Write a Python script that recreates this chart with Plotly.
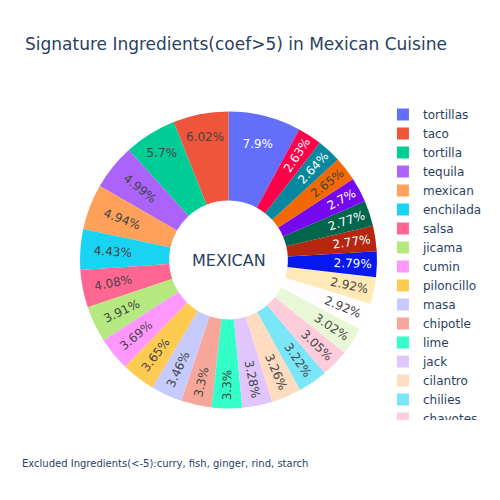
import plotly.graph_objects as go

labels = ["tortillas", "taco", "tortilla", "tequila", "mexican", "enchilada", "salsa",
          "jicama", "cumin", "piloncillo", "masa", "chipotle", "lime", "jack", "cilantro",
          "chilies", "chayotes", "tomatillos", "queso", "pinto", "jalapeno", "avocado",
          "oregano", "ancho", "pepitas", "poblano", "chorizo"]
values = [7.9, 6.02, 5.7, 4.99, 4.94, 4.43, 4.08, 3.91, 3.69, 3.65, 3.46, 3.3, 3.3, 3.28,
          3.26, 3.22, 3.05, 3.02, 2.92, 2.92, 2.79, 2.77, 2.77, 2.7, 2.65, 2.64, 2.63]

title_text = "Signature Ingredients(coef>5) in Mexican Cuisine"
center_text = "MEXICAN"
excluded_text = "Excluded Ingredients(<-5):curry, fish, ginger, rind, starch"

fig = go.Figure(go.Pie(labels=labels, values=values, hole=0.4))
fig.update_layout(
    title=dict(text=title_text),
    font=dict(family="DejaVu Sans"),
    width=500, height=500,
    annotations=[
        dict(text=center_text, x=0.5, y=0.5, xref="paper", yref="paper",
             showarrow=False, font=dict(size=16)),
        dict(text=excluded_text, x=-0.203, y=-0.16, xref="paper", yref="paper",
             xanchor="left", showarrow=False, font=dict(size=10)),
    ],
)
hide_scroll = ("setTimeout(function(){document.querySelectorAll('.scrollbar')"
               ".forEach(function(e){e.style.display='none';});}, 0);")
fig.write_html("out.html", post_script=hide_scroll)
